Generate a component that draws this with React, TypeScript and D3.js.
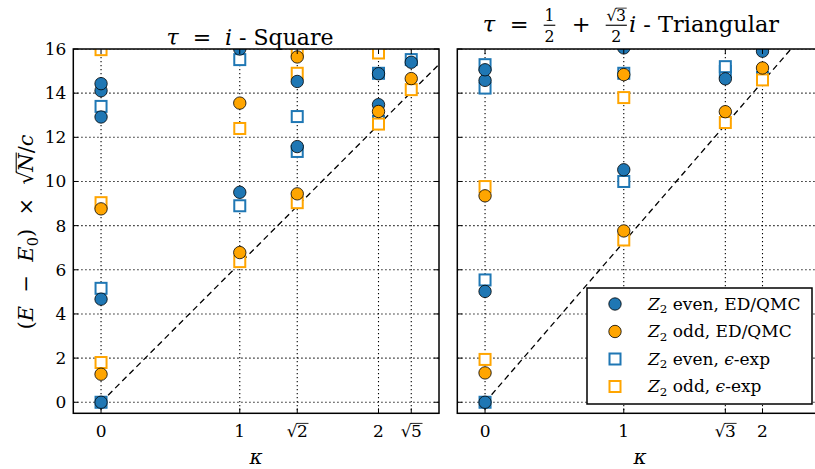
import { useEffect, useRef } from 'react'
import * as d3 from 'd3'

const R2 = Math.SQRT2
const R3 = Math.sqrt(3)
const R5 = Math.sqrt(5)

// square lattice: [kappa, (E - E0) sqrt(N)/c]
const squareTicks = [0, 1, R2, 2, R5]
const squareTickLabels = ['0', '1', '√2', '2', '√5']
const squareEvenED = [[0, 0], [0, 4.67], [0, 12.92], [0, 14.11], [0, 14.43], [1, 9.51], [1, 16.0], [R2, 11.58], [R2, 14.53], [2, 13.48], [2, 14.88], [R5, 15.4]]
const squareOddED = [[0, 1.27], [0, 8.76], [1, 6.78], [1, 13.55], [R2, 9.44], [R2, 15.64], [2, 13.17], [R5, 14.66]]
const squareEvenEps = [[0, 0], [0, 5.16], [0, 13.4], [1, 8.9], [1, 15.52], [R2, 11.36], [R2, 12.94], [2, 12.72], [2, 14.9], [R5, 15.52]]
const squareOddEps = [[0, 1.8], [0, 9.04], [0, 15.97], [1, 6.37], [1, 12.4], [R2, 9.04], [R2, 14.9], [R2, 15.95], [2, 12.6], [2, 15.82], [R5, 14.16]]
const squareSlope = 2 * Math.PI

// triangular lattice
const triTicks = [0, 1, R3, 2]
const triTickLabels = ['0', '1', '√3', '2']
const triEvenED = [[0, 0], [0, 5.02], [0, 14.58], [0, 15.06], [1, 10.53], [1, 16.05], [R3, 14.65], [2, 15.9]]
const triOddED = [[0, 1.33], [0, 9.35], [1, 7.76], [1, 14.84], [R3, 13.16], [2, 15.14]]
const triEvenEps = [[0, 0], [0, 5.54], [0, 14.23], [0, 15.29], [1, 10.0], [1, 14.9], [R3, 14.98], [R3, 15.2], [2, 14.71]]
const triOddEps = [[0, 1.94], [0, 9.77], [1, 7.35], [1, 13.8], [R3, 12.67], [2, 14.6]]
const triSlope = (4 * Math.PI) / R3

const yTicks = d3.range(0, 17, 2)
const legendLabels = [
  [{ t: 'Z', i: true }, { sub: '2' }, { t: ' even, ED/QMC' }],
  [{ t: 'Z', i: true }, { sub: '2' }, { t: ' odd, ED/QMC' }],
  [{ t: 'Z', i: true }, { sub: '2' }, { t: ' even, ' }, { t: 'ϵ', i: true }, { t: '-exp' }],
  [{ t: 'Z', i: true }, { sub: '2' }, { t: ' odd, ' }, { t: 'ϵ', i: true }, { t: '-exp' }],
]

const BLUE = '#1f77b4'
const ORANGE = '#ffa500'
const FONT = "'DejaVu Serif', 'Liberation Serif', serif"

// lay out a row of math-ish parts, returns width
function mathRow(g: any, parts: any[], fs: number, x0 = 0, y0 = 0): number {
  let x = x0
  const txt = (s: string, xx: number, yy: number, size: number, italic = false) =>
    g.append('text').attr('x', xx).attr('y', yy)
      .style('font-family', FONT).style('font-size', `${size}px`)
      .style('font-style', italic ? 'italic' : 'normal').style('white-space', 'pre').text(s)
  for (const p of parts) {
    if (p.t !== undefined) {
      const el = txt(p.t, x, y0, fs, p.i)
      x += el.node().getComputedTextLength()
    } else if (p.sub !== undefined) {
      const el = txt(p.sub, x, y0 + fs * 0.22, fs * 0.7)
      x += el.node().getComputedTextLength()
    } else if (p.sqrt !== undefined) {
      const r = txt('√', x, y0, fs)
      x += r.node().getComputedTextLength() - fs * 0.03
      const el = txt(p.sqrt, x, y0, fs, p.i)
      const w = el.node().getComputedTextLength()
      g.append('line').attr('x1', x - fs * 0.02).attr('x2', x + w + fs * 0.04)
        .attr('y1', y0 - fs * 0.8).attr('y2', y0 - fs * 0.8)
        .attr('stroke', '#000').attr('stroke-width', fs * 0.05)
      x += w
    } else if (p.frac !== undefined) {
      const sfs = fs * 0.7
      const num = g.append('g')
      const nw = mathRow(num, p.frac[0], sfs)
      const den = g.append('g')
      const dw = mathRow(den, p.frac[1], sfs)
      const w = Math.max(nw, dw) + fs * 0.15
      num.attr('transform', `translate(${x + (w - nw) / 2},${y0 - fs * 0.5})`)
      den.attr('transform', `translate(${x + (w - dw) / 2},${y0 + fs * 0.45})`)
      g.append('line').attr('x1', x + fs * 0.04).attr('x2', x + w - fs * 0.04)
        .attr('y1', y0 - fs * 0.3).attr('y2', y0 - fs * 0.3)
        .attr('stroke', '#000').attr('stroke-width', fs * 0.05)
      x += w + fs * 0.05
    }
  }
  return x - x0
}

function centered(svg: any, parts: any[], fs: number, cx: number, by: number, rotate = false) {
  const g = svg.append('g').attr('fill', '#000')
  const w = mathRow(g, parts, fs)
  g.attr('transform', rotate ? `translate(${cx},${by}) rotate(-90) translate(${-w / 2},0)` : `translate(${cx - w / 2},${by})`)
}

function panel(svg: any, id: string, left: number, right: number, ticks: number[], tickLabels: string[],
  evenED: number[][], oddED: number[][], evenEps: number[][], oddEps: number[][], slope: number, yLabels: boolean) {
  const top = 49
  const bottom = 413.3
  const x = d3.scaleLinear().domain([-0.2, R5 + 0.2]).range([left, right])
  const y = d3.scaleLinear().domain([-0.5, 16]).range([bottom, top])

  svg.append('clipPath').attr('id', id).append('rect')
    .attr('x', left).attr('y', top).attr('width', right - left).attr('height', bottom - top)

  const g = svg.append('g')
  const plot = g.append('g').attr('clip-path', `url(#${id})`)

  // grid
  plot.selectAll('.gy').data(yTicks).enter().append('line')
    .attr('x1', left).attr('x2', right).attr('y1', (d: number) => y(d)).attr('y2', (d: number) => y(d))
    .attr('stroke', '#000').attr('stroke-width', 1.1).attr('stroke-dasharray', '1.3,2.7')
  plot.selectAll('.gx').data(ticks).enter().append('line')
    .attr('y1', top).attr('y2', bottom).attr('x1', (d: number) => x(d)).attr('x2', (d: number) => x(d))
    .attr('stroke', '#000').attr('stroke-width', 1.1).attr('stroke-dasharray', '1.3,2.7')

  // dashed guide
  const line = d3.line<number>().x((d) => x(d)).y((d) => y(d * slope))
  plot.append('path').attr('d', line([0, 16 / slope])).attr('fill', 'none')
    .attr('stroke', '#000').attr('stroke-width', 1.3).attr('stroke-dasharray', '6,4')

  const squares = (data: number[][], color: string) => plot.selectAll(null).data(data).enter().append('rect')
    .attr('x', (d: number[]) => x(d[0]) - 5.5).attr('y', (d: number[]) => y(d[1]) - 5.5)
    .attr('width', 11).attr('height', 11).attr('fill', '#fff').attr('stroke', color).attr('stroke-width', 2)
  const circles = (data: number[][], color: string) => plot.selectAll(null).data(data).enter().append('circle')
    .attr('cx', (d: number[]) => x(d[0])).attr('cy', (d: number[]) => y(d[1])).attr('r', 6.2)
    .attr('fill', color).attr('stroke', '#000').attr('stroke-width', 0.8)
  squares(evenEps, BLUE)
  squares(oddEps, ORANGE)
  circles(evenED, BLUE)
  circles(oddED, ORANGE)

  // ticks (inward, all sides)
  const tk = g.append('g').attr('stroke', '#000').attr('stroke-width', 1)
  ticks.forEach((t) => {
    tk.append('line').attr('x1', x(t)).attr('x2', x(t)).attr('y1', bottom).attr('y2', bottom - 5)
    tk.append('line').attr('x1', x(t)).attr('x2', x(t)).attr('y1', top).attr('y2', top + 5)
  })
  yTicks.forEach((t) => {
    tk.append('line').attr('y1', y(t)).attr('y2', y(t)).attr('x1', left).attr('x2', left + 5)
    tk.append('line').attr('y1', y(t)).attr('y2', y(t)).attr('x1', right).attr('x2', right - 5)
  })

  g.append('rect').attr('x', left).attr('y', top).attr('width', right - left).attr('height', bottom - top)
    .attr('fill', 'none').attr('stroke', '#000').attr('stroke-width', 1.5)

  // tick labels
  ticks.forEach((t, i) => {
    const lab = tickLabels[i]
    const parts = lab.startsWith('√') ? [{ sqrt: lab.slice(1) }] : [{ t: lab }]
    centered(svg, parts, 17, x(t), 437)
  })
  if (yLabels) {
    svg.append('g').attr('text-anchor', 'end')
      .selectAll('text').data(yTicks).enter().append('text')
      .style('font-family', FONT).style('font-size', '17px')
      .attr('x', left - 7).attr('y', (d: number) => y(d) + 6).text((d: number) => d)
  }
  return { x, y }
}

export default function App() {
  const ref = useRef<SVGSVGElement>(null)

  useEffect(() => {
    const svg = d3.select(ref.current)
    svg.selectAll('*').remove()

    panel(svg, 'clipSq', 73.3, 439, squareTicks, squareTickLabels, squareEvenED, squareOddED, squareEvenEps, squareOddEps, squareSlope, true)
    panel(svg, 'clipTr', 457.3, 823, triTicks, triTickLabels, triEvenED, triOddED, triEvenEps, triOddEps, triSlope, false)

    // titles
    centered(svg, [{ t: 'τ', i: true }, { t: '  =  ' }, { t: 'i', i: true }, { t: ' - Square' }], 22, 250, 45)
    centered(svg, [{ t: 'τ', i: true }, { t: '  =  ' }, { frac: [[{ t: '1' }], [{ t: '2' }]] }, { t: '  +  ' },
      { frac: [[{ sqrt: '3' }], [{ t: '2' }]] }, { t: 'i', i: true }, { t: ' - Triangular' }], 22.5, 631, 32)

    // axis labels
    centered(svg, [{ t: 'κ', i: true }], 20, 256, 464)
    centered(svg, [{ t: 'κ', i: true }], 20, 640, 464)
    centered(svg, [{ t: '(' }, { t: 'E', i: true }, { t: '  −  ' }, { t: 'E', i: true }, { sub: '0' }, { t: ')' },
      { t: '  ×  ' }, { sqrt: 'N', i: true }, { t: '/' }, { t: 'c', i: true }], 21, 33, 232, true)

    // legend
    const lg = svg.append('g')
    lg.append('rect').attr('x', 587).attr('y', 288).attr('width', 225).attr('height', 116)
      .attr('fill', '#fff').attr('stroke', '#000').attr('stroke-width', 1.5)
    const rowY = [304, 331.5, 359, 386.5]
    lg.append('circle').attr('cx', 615).attr('cy', rowY[0]).attr('r', 6.2).attr('fill', BLUE).attr('stroke', '#000').attr('stroke-width', 0.8)
    lg.append('circle').attr('cx', 615).attr('cy', rowY[1]).attr('r', 6.2).attr('fill', ORANGE).attr('stroke', '#000').attr('stroke-width', 0.8)
    lg.append('rect').attr('x', 609.5).attr('y', rowY[2] - 5.5).attr('width', 11).attr('height', 11).attr('fill', '#fff').attr('stroke', BLUE).attr('stroke-width', 2)
    lg.append('rect').attr('x', 609.5).attr('y', rowY[3] - 5.5).attr('width', 11).attr('height', 11).attr('fill', '#fff').attr('stroke', ORANGE).attr('stroke-width', 2)
    legendLabels.forEach((parts, i) => {
      const t = lg.append('g').attr('transform', `translate(648,${rowY[i] + 5.5})`)
      mathRow(t, parts, 17)
    })
  }, [])

  return (
    <svg ref={ref} width={815} height={469} style={{ position: 'absolute', left: 0, top: 0, background: '#fff' }} />
  )
}
